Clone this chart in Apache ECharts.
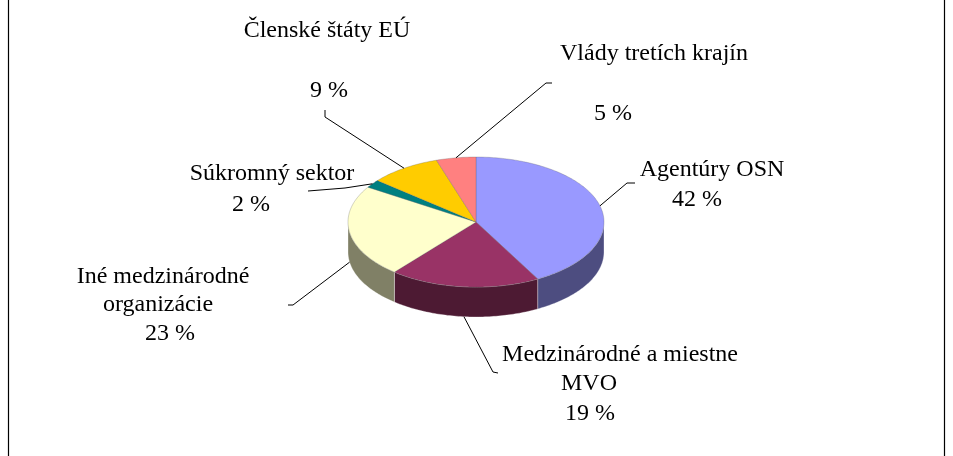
<!DOCTYPE html>
<html>
<head>
<meta charset="utf-8">
<script src="https://cdn.jsdelivr.net/npm/echarts@6/dist/echarts.min.js"></script>
<style>
  html, body { margin: 0; padding: 0; background: #fff; }
  #chart { width: 953px; height: 456px; }
</style>
</head>
<body>
<div id="chart"></div>
<script>
// data
const categories = ['Agentúry OSN', 'Medzinárodné a miestne MVO', 'Iné medzinárodné organizácie', 'Súkromný sektor', 'Členské štáty EÚ', 'Vlády tretích krajín']
const shares = [42, 19, 23, 2, 9, 5]
// how each category name is wrapped in the label
const nameLines = [['Agentúry OSN'], ['Medzinárodné a miestne', 'MVO'], ['Iné medzinárodné', 'organizácie'], ['Súkromný sektor'], ['Členské štáty EÚ'], ['Vlády tretích krajín']]

const topColors = ['#9999FF', '#993366', '#FFFFCC', '#008080', '#FFCC00', '#FF8080']
const sideColors = ['#4D4D80', '#4D1A33', '#808066', '#004040', '#806600', '#804040']

// pie geometry (pixels)
const PIE = { cx: 476, cy: 222, rx: 128, ry: 65, depth: 30 }

// label layout: centre of each name line, of the percent line, and leader line elbow/end
const labelLayout = [
  { names: [[712, 170]], pct: [697, 200], elbow: [627, 183], end: [635, 183] },
  { names: [[620, 355], [589, 384]], pct: [590, 414], elbow: [493, 372], end: [498, 373] },
  { names: [[163, 277], [158, 305]], pct: [170, 334], elbow: [293, 305], end: [288, 305] },
  { names: [[272, 174]], pct: [251, 205], elbow: [345, 188], end: [308, 191] },
  { names: [[327, 31]], pct: [329, 91], elbow: [325, 117], end: [325, 110] },
  { names: [[654, 54]], pct: [613, 114], elbow: [546, 83], end: [552, 83] }
]

const FONT = "'Liberation Serif', 'Times New Roman', serif"
const total = shares.reduce((a, b) => a + b, 0)
const starts = []
let acc = 0
shares.forEach(v => { starts.push(acc / total * 360); acc += v })

function pt(deg, dy) {
  const r = deg * Math.PI / 180
  return [PIE.cx + PIE.rx * Math.sin(r), PIE.cy - PIE.ry * Math.cos(r) + (dy || 0)]
}
function arc(a0, a1, dy) {
  const pts = []
  const n = Math.max(2, Math.ceil(a1 - a0))
  for (let k = 0; k <= n; k++) pts.push(pt(a0 + (a1 - a0) * k / n, dy))
  return pts
}
function label(text, pos) {
  return {
    type: 'text', z2: 20,
    style: { text: text, x: pos[0], y: pos[1], align: 'center', verticalAlign: 'middle', fill: '#000', font: '24px ' + FONT }
  }
}

function renderSlice(params, api) {
  const i = params.dataIndex
  const a0 = starts[i]
  const a1 = a0 + api.value(0) / total * 360
  const lay = labelLayout[i]
  const children = []
  // outer wall, front half only
  const s0 = Math.max(a0, 90), s1 = Math.min(a1, 270)
  if (s1 > s0) {
    const top = arc(s0, s1, 0)
    const bottom = arc(s0, s1, PIE.depth).reverse()
    children.push({
      type: 'polygon', z2: 1,
      shape: { points: top.concat(bottom) },
      style: { fill: sideColors[i], stroke: 'rgba(255,255,255,0.45)', lineWidth: 0.7 }
    })
  }
  // top face
  children.push({
    type: 'polygon', z2: 2,
    shape: { points: [[PIE.cx, PIE.cy]].concat(arc(a0, a1, 0)) },
    style: { fill: topColors[i], stroke: 'rgba(90,90,90,0.45)', lineWidth: 0.6 }
  })
  // leader line
  const mid = (a0 + a1) / 2
  const front = Math.cos(mid * Math.PI / 180) < 0
  children.push({
    type: 'polyline', z2: 10,
    shape: { points: [pt(mid, front ? PIE.depth : 0), lay.elbow, lay.end] },
    style: { stroke: '#000', lineWidth: 1, fill: null }
  })
  nameLines[i].forEach((t, k) => children.push(label(t, lay.names[k])))
  children.push(label(api.value(0) + ' %', lay.pct))
  return { type: 'group', children: children }
}

const chart = echarts.init(document.getElementById('chart'), null, { renderer: 'canvas' })
chart.setOption({
  animation: false,
  backgroundColor: '#fff',
  graphic: [
    { type: 'line', shape: { x1: 8.5, y1: 0, x2: 8.5, y2: 456 }, style: { stroke: '#000', lineWidth: 1.2 } },
    { type: 'line', shape: { x1: 944.5, y1: 0, x2: 944.5, y2: 456 }, style: { stroke: '#000', lineWidth: 1.2 } }
  ],
  series: [{
    type: 'custom',
    coordinateSystem: 'none',
    silent: true,
    renderItem: renderSlice,
    data: shares.map((v, i) => ({ name: categories[i], value: [v] }))
  }]
})
</script>
</body>
</html>
